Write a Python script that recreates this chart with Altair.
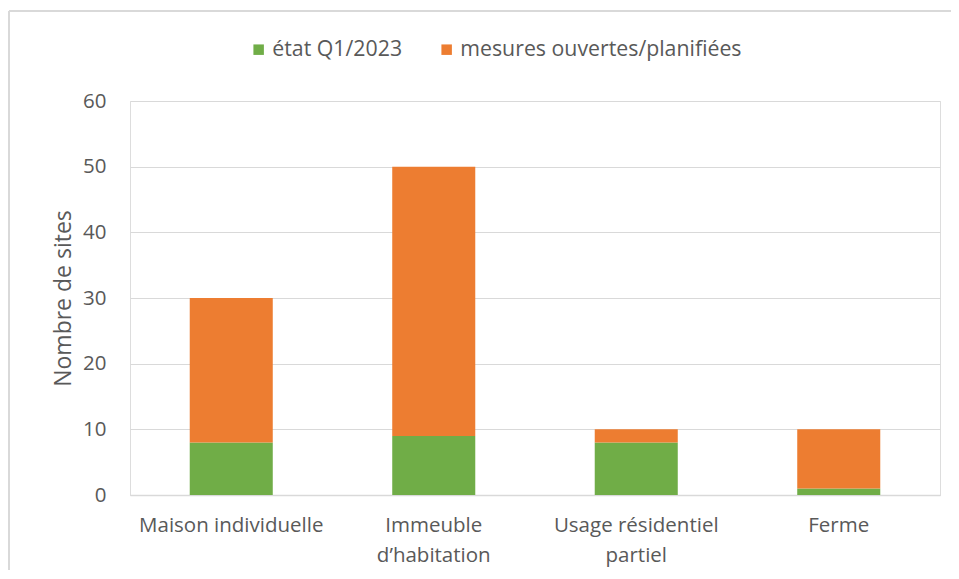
import altair as alt
import pandas as pd

categories = ["Maison individuelle", "Immeuble d’habitation", "Usage résidentiel partiel", "Ferme"]
series = ["état Q1/2023", "mesures ouvertes/planifiées"]
etat_values = [8, 9, 8, 1]
mesures_values = [22, 41, 2, 9]
y_ticks = [0, 10, 20, 30, 40, 50, 60]
colors = ["#70AD47", "#ED7D31"]

rows = []
for i, c in enumerate(categories):
    rows.append({"cat": c, "serie": series[0], "val": etat_values[i], "ord": 0})
    rows.append({"cat": c, "serie": series[1], "val": mesures_values[i], "ord": 1})
df = pd.DataFrame(rows)

FONT = "Open Sans"
GREY = "#595959"

label_expr = (
    "datum.value == 'Immeuble d’habitation' ? ['Immeuble', 'd’habitation'] : "
    "datum.value == 'Usage résidentiel partiel' ? ['Usage résidentiel', 'partiel'] : datum.value"
)

bars = alt.Chart(df).mark_bar().encode(
    x=alt.X("cat:N", sort=categories,
            scale=alt.Scale(paddingInner=0.59, paddingOuter=0.295),
            axis=alt.Axis(title=None, labelAngle=0, labelExpr=label_expr,
                          labelFont=FONT, labelFontSize=20.5, labelColor=GREY,
                          labelPadding=20, labelLineHeight=30, labelBaseline="top",
                          labelLimit=400, labelOverlap=False,
                          ticks=False, domainColor="#d9d9d9", domainWidth=1.5)),
    y=alt.Y("val:Q", stack="zero", scale=alt.Scale(domain=[0, 60]),
            axis=alt.Axis(title="Nombre de sites", values=y_ticks,
                          labelFont=FONT, labelFontSize=20.5, labelColor=GREY,
                          labelPadding=24, ticks=False, domain=False,
                          gridColor="#d9d9d9", gridWidth=1,
                          titleFont=FONT, titleFontSize=23, titleColor=GREY,
                          titleFontWeight="normal", titlePadding=7)),
    color=alt.Color("serie:N", sort=series,
                    scale=alt.Scale(domain=series, range=colors),
                    legend=alt.Legend(title=None, orient="none", direction="horizontal",
                                      legendX=118, legendY=-62,
                                      symbolType="square", symbolSize=110,
                                      symbolStrokeWidth=0,
                                      labelFont=FONT, labelFontSize=21.3, labelColor=GREY,
                                      labelOffset=3, columnPadding=33, labelLimit=400)),
    order=alt.Order("ord:Q", sort="ascending"),
)

top_line = alt.Chart(df).mark_rule(color="#d9d9d9", strokeWidth=1.5).encode(
    x=alt.value(-121), x2=alt.value(900), y=alt.value(-90)
)
left_line = alt.Chart(df).mark_rule(color="#d9d9d9", strokeWidth=1.5).encode(
    x=alt.value(-121), y=alt.value(-90), y2=alt.value(600)
)

chart = alt.layer(top_line, left_line, bars).properties(
    width=810, height=394,
    autosize=alt.AutoSizeParams(type="none"),
    padding={"left": 122, "top": 93, "right": 11, "bottom": 75},
).configure_view(strokeWidth=0).configure(background="white")

chart.save("out.html", embed_options={"renderer": "svg", "actions": False})
